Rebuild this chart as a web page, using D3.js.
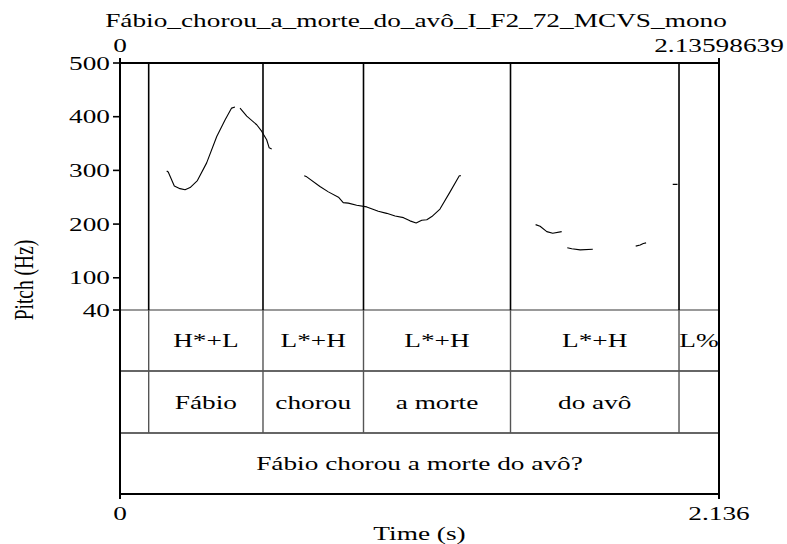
<!DOCTYPE html>
<html>
<head>
<meta charset="utf-8">
<script src="https://cdn.jsdelivr.net/npm/d3@7"></script>
<style>
  html, body { margin: 0; padding: 0; background: #fff; }
  svg { display: block; }
  text { font-family: "Liberation Serif", "Times New Roman", serif; font-size: 19.5px; fill: #000; }
</style>
</head>
<body>
<svg id="chart" width="787" height="544"></svg>
<script>
// ---------- data ----------
const title = "Fábio_chorou_a_morte_do_avô_I_F2_72_MCVS_mono";
const timeStart = 0;
const timeEnd = 2.13598639;
const pitchMin = 40;
const pitchMax = 500;
const pitchTicks = [40, 100, 200, 300, 400, 500];
const timeTickLabels = ["0", "2.136"];
const topTimeLabels = ["0", "2.13598639"];

// interval boundaries (s), shared by tone and word tiers
const boundaries = [0.1023, 0.5099, 0.8683, 1.3925, 1.9934];
const tones = ["", "H*+L", "L*+H", "L*+H", "L*+H", "L%"];
const words = ["", "Fábio", "chorou", "a morte", "do avô", ""];
const sentence = ["Fábio chorou a morte do avô?"];

// pitch track (s, Hz); null marks an unvoiced gap
const pitchTime = [
  0.1665, 0.172, 0.1937, 0.214, 0.232, 0.250, 0.276, 0.309, 0.345, 0.3745, 0.398, 0.410, null,
  0.428, 0.452, 0.4875, 0.505, 0.523, 0.532, 0.541, null,
  0.657, 0.666, 0.713, 0.743, 0.779, 0.796, 0.814, 0.844, 0.880, 0.921, 0.951, 0.981, 1.011, 1.034,
  1.056, 1.076, 1.094, 1.112, 1.141, 1.177, 1.210, 1.216, null,
  1.482, 1.498, 1.522, 1.543, 1.575, null,
  1.595, 1.611, 1.641, 1.686, null,
  1.839, 1.855, 1.866, 1.876, null,
  1.971, 1.988
];
const pitchHz = [
  299, 297, 271, 266, 264, 268, 281, 314, 363, 394, 416, 418, null,
  416, 401, 385, 373, 357, 342, 340, null,
  290, 288, 270, 260, 250, 240, 239, 235, 232, 224, 220, 215, 212, 206,
  202, 207, 208, 214, 228, 260, 290, 290, null,
  199, 196, 186, 183, 186, null,
  156, 154, 152, 153, null,
  159, 161, 164, 165, null,
  274, 274
];

// ---------- layout ----------
const SX = 1.4; // horizontal stretch of text
const L = 120, R = 719, T = 63, P = 310;
const tierY = [310, 371, 433, 494];

const svg = d3.select("#chart");
const x = d3.scaleLinear().domain([timeStart, timeEnd]).range([L, R]);
const y = d3.scaleLinear().domain([pitchMin, pitchMax]).range([P, T]);

function label(x0, y0, s, anchor = "middle", rot = false) {
  return svg.append("text")
    .attr("transform", `translate(${x0},${y0}) scale(${SX},1)` + (rot ? " rotate(-90)" : ""))
    .attr("text-anchor", anchor)
    .text(s);
}

// tier horizontal lines
svg.append("line").attr("x1", L).attr("x2", R).attr("y1", tierY[0]).attr("y2", tierY[0])
  .attr("stroke", "#777").attr("stroke-width", 1.3);
[tierY[1], tierY[2]].forEach(v => {
  svg.append("line").attr("x1", L).attr("x2", R).attr("y1", v).attr("y2", v)
    .attr("stroke", "#333").attr("stroke-width", 1.5);
});

// boundaries: black in pitch area, gray in tiers
boundaries.forEach(b => {
  svg.append("line").attr("x1", x(b)).attr("x2", x(b)).attr("y1", T).attr("y2", P)
    .attr("stroke", "#000").attr("stroke-width", 1.6);
  svg.append("line").attr("x1", x(b)).attr("x2", x(b)).attr("y1", P).attr("y2", tierY[2])
    .attr("stroke", "#555").attr("stroke-width", 1.4);
});

// pitch curve
const pts = pitchTime.map((t, i) => [t, pitchHz[i]]);
const line = d3.line()
  .defined(d => d[0] !== null && d[1] !== null)
  .x(d => x(d[0])).y(d => y(d[1]));
svg.append("path").attr("d", line(pts)).attr("fill", "none")
  .attr("stroke", "#000").attr("stroke-width", 1.1).attr("stroke-linejoin", "round");

// frame
svg.append("path")
  .attr("d", `M${L},${tierY[3]}H${R}M${L},${T}H${R}`)
  .attr("stroke", "#000").attr("stroke-width", 2).attr("fill", "none");
svg.append("line").attr("x1", L).attr("x2", L).attr("y1", T - 5).attr("y2", tierY[3] + 5)
  .attr("stroke", "#000").attr("stroke-width", 2);
svg.append("line").attr("x1", R).attr("x2", R).attr("y1", T - 5).attr("y2", tierY[3] + 5)
  .attr("stroke", "#000").attr("stroke-width", 2);

// y axis ticks and labels
pitchTicks.forEach(v => {
  svg.append("line").attr("x1", L - 7).attr("x2", L).attr("y1", y(v)).attr("y2", y(v))
    .attr("stroke", "#000").attr("stroke-width", 1.6);
  label(L - 10, y(v) + 6.5, String(v), "end");
});
label(33, 280, "Pitch (Hz)", "middle", true);

// top labels
label(416, 27, title);
label(x(timeStart), 52, topTimeLabels[0]);
label(x(timeEnd), 52, topTimeLabels[1]);

// bottom labels
label(x(timeStart), 520, timeTickLabels[0]);
label(x(timeEnd), 520, timeTickLabels[1]);
label((L + R) / 2, 540, "Time (s)");

// tier texts
const edges = [timeStart, ...boundaries, timeEnd];
function tierText(arr, row) {
  arr.forEach((s, i) => {
    if (!s) return;
    const cx = (x(edges[i]) + x(edges[i + 1])) / 2;
    label(cx, (tierY[row] + tierY[row + 1]) / 2 + 6.5, s);
  });
}
tierText(tones, 0);
tierText(words, 1);
label((L + R) / 2, (tierY[2] + tierY[3]) / 2 + 6.5, sentence[0]);
</script>
</body>
</html>
